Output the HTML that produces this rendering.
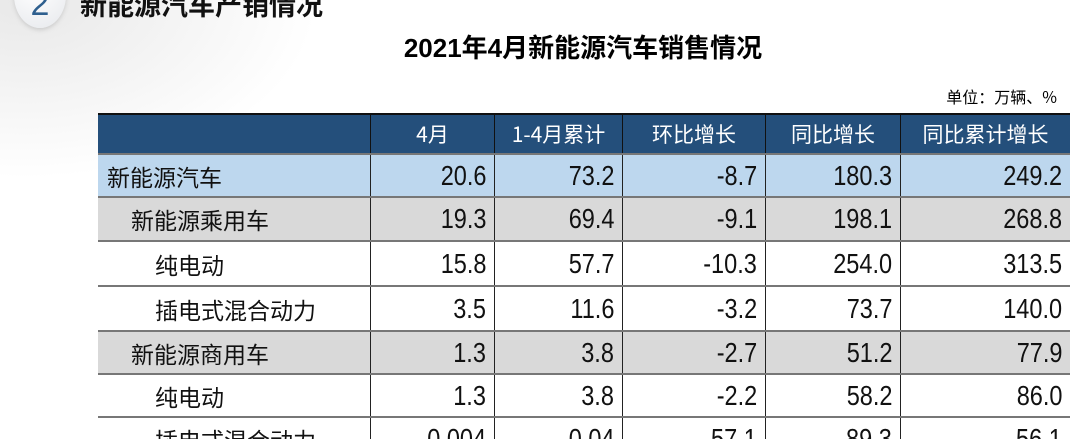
<!DOCTYPE html>
<html><head><meta charset="utf-8"><style>
html,body{margin:0;width:1077px;height:439px;overflow:hidden;background:#fff}
body{position:relative;font-family:"Liberation Sans","Noto Sans CJK SC",sans-serif}
.bg{position:absolute;left:-100px;top:-120px;width:420px;height:300px;background:radial-gradient(ellipse at 30% 40%,#e8e8e8,rgba(255,255,255,0) 70%);}
.circ{position:absolute;left:14px;top:-38px;width:52px;height:66px;border-radius:50%;background:radial-gradient(circle at 40% 40%,#fff,#e6e8ec);box-shadow:0 2px 4px #ccc;color:#2e5f8e;font-size:34px;text-align:center;line-height:84px}
.h1{position:absolute;left:80px;top:-16px;font-size:27px;font-weight:bold;color:#111;font-family:"Noto Sans CJK SC",sans-serif}
.t{position:absolute;left:0;width:1166px;top:28px;text-align:center;font-size:26px;font-weight:bold;font-family:"Liberation Sans","Noto Sans CJK SC",sans-serif}
.u{position:absolute;right:20px;top:84px;font-size:16px;font-family:"Noto Sans CJK SC",sans-serif}
.row{position:absolute;left:98px;width:972px;color:#111}
.c{position:absolute;top:0;bottom:0;border-right:1px solid #222;box-sizing:border-box;display:flex;align-items:center;justify-content:flex-end;padding-right:8px;overflow:hidden}
.c span{display:inline-block;font-size:28px;transform:scaleX(0.84);transform-origin:right center;font-family:"Liberation Sans",sans-serif}
.c.n{justify-content:flex-start;padding-left:9px;font-family:"Noto Sans CJK SC",sans-serif;font-size:23px}
.hd .c{justify-content:center;padding:0;color:#fff;font-family:"Noto Sans CJK SC",sans-serif;font-size:21px;border-right-color:#111}
</style></head><body>
<div class="bg"></div>
<div class="circ">2</div>
<div class="h1">新能源汽车产销情况</div>
<div class="t">2021年4月新能源汽车销售情况</div>
<div class="u">单位：万辆、%</div>
<div id="tb"></div>
<script>
const cols=[0,273,397,525,668,803,972];
const rows=[
["hd",113,40,"#244f7b",["","4月","1-4月累计","环比增长","同比增长","同比累计增长"],0],
["",153,43,"#bdd7ee",["新能源汽车","20.6","73.2","-8.7","180.3","249.2"],0],
["",196,44,"#d9d9d9",["新能源乘用车","19.3","69.4","-9.1","198.1","268.8"],24],
["",240,45,"#fff",["纯电动","15.8","57.7","-10.3","254.0","313.5"],48],
["",285,45,"#fff",["插电式混合动力","3.5","11.6","-3.2","73.7","140.0"],48],
["",330,43,"#d9d9d9",["新能源商用车","1.3","3.8","-2.7","51.2","77.9"],24],
["",373,43,"#fff",["纯电动","1.3","3.8","-2.2","58.2","86.0"],48],
["",416,44,"#fff",["插电式混合动力","0.004","0.04","-57.1","-89.3","-56.1"],48]];
let h="";
rows.forEach(r=>{
 h+=`<div class="row ${r[0]}" style="top:${r[1]}px;height:${r[2]}px;background:${r[3]};border-top:${r[0]?'2px solid #111':'2px solid #777'};box-sizing:border-box">`;
 for(let i=0;i<6;i++){
  let st=`left:${cols[i]}px;width:${cols[i+1]-cols[i]}px;`;
  if(i==0&&!r[0]) st+=`padding-left:${9+r[5]}px;`;
  if(i==5) st+="border-right:none;";
  let txt=(i==0||r[0])?r[4][i]:`<span>${r[4][i]}</span>`;
  h+=`<div class="c ${i==0?'n':''}" style="${st}">${txt}</div>`;
 }
 h+="</div>";
});
document.getElementById("tb").innerHTML=h;
</script>
</body></html>
